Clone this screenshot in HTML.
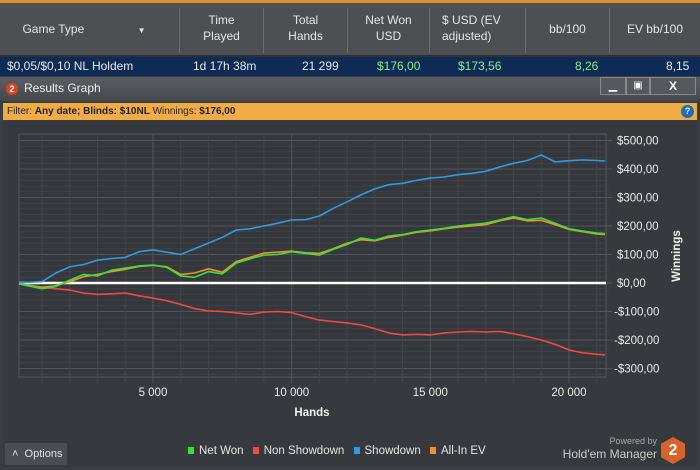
<!DOCTYPE html>
<html><head><meta charset="utf-8"><style>
*{margin:0;padding:0;box-sizing:border-box}
body{width:700px;height:470px;overflow:hidden;background:#3a3d41;font-family:"Liberation Sans",sans-serif;position:relative}
.abs{position:absolute}
.hdr{color:#e6e6e6;font-size:12px;text-align:center;line-height:16px}
.cell{color:#e8e8e8;font-size:12px}
</style></head><body>
<div class="abs" style="left:0;top:0;width:700px;height:3px;background:#d89030"></div>
<div class="abs" style="left:0;top:3px;width:700px;height:52px;background:#4d4f53"></div>
<div class="abs" style="left:0;top:55px;width:700px;height:2px;background:#2e3034"></div>
<div class="abs hdr" style="left:0;top:21px;width:168px">Game Type <span style="font-size:8px;margin-left:50px">▼</span></div>
<div class="abs hdr" style="left:180px;top:12px;width:83px">Time<br>Played</div>
<div class="abs hdr" style="left:264px;top:12px;width:83px">Total<br>Hands</div>
<div class="abs hdr" style="left:348px;top:12px;width:81px">Net Won<br>USD</div>
<div class="abs hdr" style="left:430px;top:12px;width:95px;text-align:left;padding-left:12px">$ USD (EV<br>adjusted)</div>
<div class="abs hdr" style="left:526px;top:21px;width:83px">bb/100</div>
<div class="abs hdr" style="left:610px;top:21px;width:90px">EV bb/100</div>
<div class="abs" style="left:179px;top:8px;width:1px;height:45px;background:#6a6c70"></div>
<div class="abs" style="left:263px;top:8px;width:1px;height:45px;background:#6a6c70"></div>
<div class="abs" style="left:347px;top:8px;width:1px;height:45px;background:#6a6c70"></div>
<div class="abs" style="left:429px;top:8px;width:1px;height:45px;background:#6a6c70"></div>
<div class="abs" style="left:525px;top:8px;width:1px;height:45px;background:#6a6c70"></div>
<div class="abs" style="left:609px;top:8px;width:1px;height:45px;background:#6a6c70"></div>
<div class="abs" style="left:0;top:57px;width:700px;height:19px;background:#0e2b55">
<span class="abs cell" style="left:7px;top:2px">$0,05/$0,10 NL Holdem</span>
<span class="abs cell" style="left:193px;top:2px">1d 17h 38m</span>
<span class="abs cell" style="left:302px;top:2px">21 299</span>
<span class="abs cell" style="left:377px;top:2px;color:#8af08a">$176,00</span>
<span class="abs cell" style="left:458px;top:2px;color:#8af08a">$173,56</span>
<span class="abs cell" style="left:575px;top:2px;color:#8af08a">8,26</span>
<span class="abs cell" style="left:666px;top:2px">8,15</span>
</div>
<div class="abs" style="left:0;top:77px;width:700px;height:24px;background:linear-gradient(#5a5d62,#45484c)"></div>
<div class="abs" style="left:6px;top:83px;width:12px;height:12px;border-radius:6px;background:#e04020;color:#fff;font-size:9px;font-weight:bold;text-align:center;line-height:12px">2</div>
<div class="abs" style="left:24px;top:81px;color:#f0f0f0;font-size:12px">Results Graph</div>
<div class="abs" style="left:600px;top:77px;width:26px;height:18px;border:1px solid #888;background:#55585c;color:#fff;text-align:center;font-size:11px;line-height:16px">▁</div>
<div class="abs" style="left:626px;top:77px;width:24px;height:18px;border:1px solid #888;background:#55585c;color:#fff;text-align:center;font-size:10px;line-height:16px">▣</div>
<div class="abs" style="left:650px;top:77px;width:46px;height:18px;border:1px solid #888;background:#55585c;color:#fff;text-align:center;font-size:12px;font-weight:bold;line-height:16px">X</div>
<div class="abs" style="left:3px;top:103px;width:694px;height:17px;background:#f2ac45;font-size:10px;line-height:17px;padding-left:4px;color:#222">Filter: <b>Any date; Blinds: $10NL</b> Winnings: <b>$176,00</b></div>
<div class="abs" style="left:681px;top:105px;width:13px;height:13px;border-radius:7px;background:#1d6cc0;color:#fff;font-size:9px;font-weight:bold;text-align:center;line-height:13px">?</div>
<div class="abs" style="left:3px;top:121px;width:694px;height:346px;background:#36393d"></div>
<svg class="abs" style="left:0;top:0" width="700" height="470">
<defs><clipPath id="pc"><rect x="19" y="134" width="587" height="243"/></clipPath></defs>
<g id="grid"></g><g id="series" clip-path="url(#pc)"></g><g id="labels"></g>
</svg>
<div class="abs" style="left:5px;top:443px;width:62px;height:22px;background:#4a4d52;color:#e0e0e0;font-size:11px;line-height:22px;padding-left:7px">˄&nbsp;&nbsp;Options</div>
<div class="abs" style="left:188px;top:445px;font-size:11.5px;color:#e6e6e6;white-space:nowrap">
<span><span style="display:inline-block;width:6px;height:7px;background:#3ae03a;margin-right:5px"></span>Net Won</span>
<span style="margin-left:6px"><span style="display:inline-block;width:6px;height:7px;background:#f04848;margin-right:5px"></span>Non Showdown</span>
<span style="margin-left:6px"><span style="display:inline-block;width:6px;height:7px;background:#3399e0;margin-right:5px"></span>Showdown</span>
<span style="margin-left:6px"><span style="display:inline-block;width:6px;height:7px;background:#f09030;margin-right:5px"></span>All-In EV</span>
</div>
<div class="abs" style="left:590px;top:436px;font-size:9px;color:#aaa;width:67px;text-align:right">Powered by</div>
<div class="abs" style="left:560px;top:447px;font-size:12px;color:#ccc;width:97px;text-align:right">Hold'em Manager</div>
<div class="abs" style="left:661px;top:437px;width:24px;height:27px;background:#d8622a;clip-path:polygon(50% 0,100% 25%,100% 75%,50% 100%,0 75%,0 25%);color:#fff;font-weight:bold;font-size:16px;text-align:center;line-height:27px">2</div>
<script>
const hands=[0,500,1000,1500,2000,2500,3000,3500,4000,4500,5000,5500,6000,6500,7000,7500,8000,8500,9000,9500,10000,10500,11000,11500,12000,12500,13000,13500,14000,14500,15000,15500,16000,16500,17000,17500,18000,18500,19000,19500,20000,20500,21000,21299];
const netWon=[0,-10,-20,-12,10,30,25,45,52,60,63,55,25,20,40,32,70,85,98,100,110,104,98,118,135,158,150,165,170,180,186,192,200,205,210,221,233,222,228,210,190,182,175,173];
const allInEv=[0,-8,-15,-10,5,22,30,40,48,58,62,57,30,35,50,38,75,90,105,108,112,106,104,120,140,152,148,160,168,178,183,190,196,200,205,218,228,218,220,205,188,180,172,170];
const nonShowdown=[0,-10,-15,-20,-25,-35,-40,-38,-35,-45,-53,-62,-75,-90,-98,-100,-105,-110,-102,-100,-104,-118,-130,-135,-140,-147,-160,-175,-182,-180,-182,-175,-172,-170,-172,-170,-178,-188,-200,-215,-235,-245,-250,-252];
const showdown=[0,2,5,35,57,65,80,86,90,110,116,108,100,120,140,160,186,190,200,210,221,222,235,262,285,309,330,345,350,360,368,372,380,385,392,407,420,430,449,425,429,432,430,428];
const yTicks=[500,400,300,200,100,0,-100,-200,-300];
const yTickLabels=["$500,00","$400,00","$300,00","$200,00","$100,00","$0,00","-$100,00","-$200,00","-$300,00"];
const xTicks=[5000,10000,15000,20000];
const xTickLabels=["5 000","10 000","15 000","20 000"];
const L=19,R=606,T=134,B=377;
const X=h=>14.3+h*0.027733;
const Y=v=>283-v*0.285;
const NS="http://www.w3.org/2000/svg";
function mk(tag,attrs,parent){const e=document.createElementNS(NS,tag);for(const k in attrs)e.setAttribute(k,attrs[k]);parent.appendChild(e);return e;}
const g=document.getElementById('grid'),s=document.getElementById('series'),lb=document.getElementById('labels');
mk('rect',{x:L,y:T,width:R-L,height:B-T,fill:'#34373b',stroke:'#55585c'},g);
for(let v=-320;v<=520;v+=20){const y=Y(v);if(y<T||y>B)continue;const major=v%100===0;
mk('line',{x1:L,x2:R+(major?6:3),y1:y,y2:y,stroke:major?'#52555a':'#3f4246','stroke-width':1},g);}
for(let h=1000;h<=21000;h+=1000){const x=X(h);const major=h%5000===0;
mk('line',{x1:x,x2:x,y1:T,y2:B+6,stroke:major?'#52555a':'#424549','stroke-width':1},g);}
yTicks.forEach((v,i)=>{const t=mk('text',{x:v<0?614:617,y:Y(v)+4,fill:'#ececec','font-size':11.5,'font-family':'Liberation Sans'},lb);t.textContent=yTickLabels[i];

});
xTicks.forEach((v,i)=>{const t=mk('text',{x:X(v),y:396,'text-anchor':'middle',fill:'#ececec','font-size':11.5,'font-family':'Liberation Sans'},lb);t.textContent=xTickLabels[i];

});
const xt=mk('text',{x:312,y:416,'text-anchor':'middle',fill:'#f0f0f0','font-size':11.5,'font-weight':'bold','font-family':'Liberation Sans'},lb);xt.textContent='Hands';


const yt=mk('text',{x:0,y:0,transform:'translate(680,256) rotate(-90)','text-anchor':'middle',fill:'#f0f0f0','font-size':11.5,'font-weight':'bold','font-family':'Liberation Sans'},lb);yt.textContent='Winnings';


mk('line',{x1:L,x2:R,y1:Y(0),y2:Y(0),stroke:'#ffffff','stroke-width':2.5},s);
function line(vals,color,name){const p=hands.map((h,i)=>X(h).toFixed(1)+','+Y(vals[i]).toFixed(1)).join(' ');
const e=mk('polyline',{points:p,fill:'none',stroke:color,'stroke-width':1.6,'stroke-linejoin':'round'},s);

}
line(nonShowdown,'#f04848','series-non-showdown');
line(showdown,'#3399e0','series-showdown');
line(allInEv,'#f09030','series-all-in-ev');
line(netWon,'#3ae03a','series-net-won');
</script>
</body></html>
